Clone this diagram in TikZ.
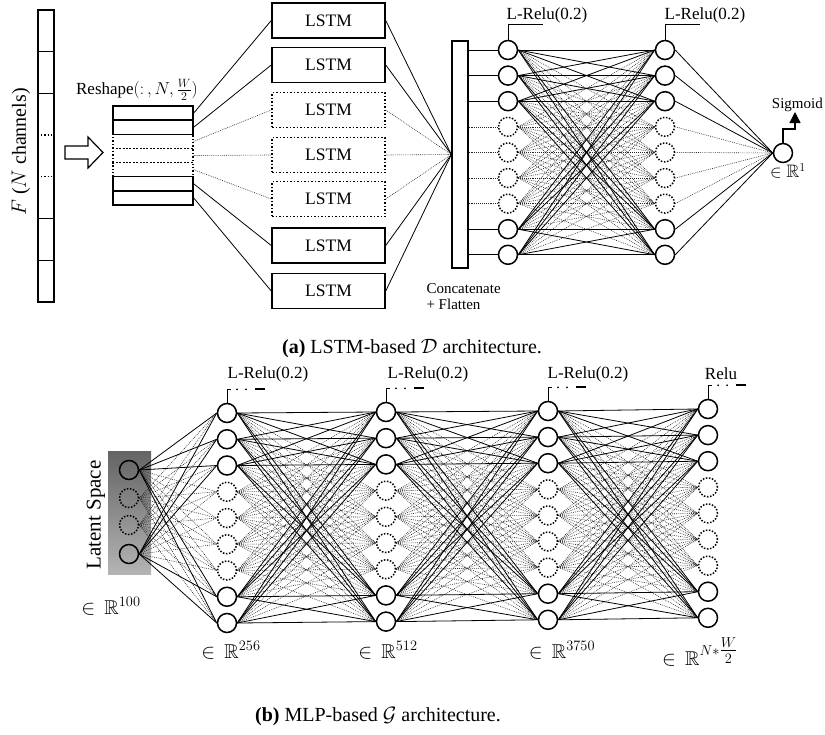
\documentclass[tikz,border=0pt]{standalone}
\usepackage{amsmath,amssymb}
\usepackage{fontspec}
\setmainfont{Liberation Serif}
\usetikzlibrary{arrows.meta}
\definecolor{latTop}{RGB}{100,100,100}
\definecolor{latBot}{RGB}{180,180,180}
\newcommand\fsz[1]{\fontsize{#1}{#1}\selectfont}
% full bipartite connection: dotted lines first, solid lines on top
\newcommand\linkall[4]{%
  \foreach \ii in {1,...,#2}{\foreach \jj in {1,...,#4}{%
    \ifcsname isd#1\ii\endcsname \draw[dconn] (#1\ii.east) -- (#3\jj.west);%
    \else\ifcsname isd#3\jj\endcsname \draw[dconn] (#1\ii.east) -- (#3\jj.west);\fi\fi
  }}%
  \foreach \ii in {1,...,#2}{\foreach \jj in {1,...,#4}{%
    \ifcsname isd#1\ii\endcsname\else\ifcsname isd#3\jj\endcsname\else
      \draw[conn] (#1\ii.east) -- (#3\jj.west);\fi\fi
  }}%
}
\newcommand\actmark[1]{%
  \draw[line width=1pt] (#1.north) -- ++(0,-13.5) coordinate (#1g) -- ++(4,0);
  \fill (#1g) ++(10,0) circle (1pt) ++(9,0) circle (1pt);
  \draw[line width=1.8pt] (#1g) ++(28,0) -- ++(10,0);
}
\foreach \k in {4,5,6,7}{\foreach \p in {p,q,A,B,C,D}{\expandafter\xdef\csname isd\p\k\endcsname{1}}}
\expandafter\xdef\csname isdL2\endcsname{1}
\expandafter\xdef\csname isdL3\endcsname{1}
\begin{document}
\begin{tikzpicture}[x=1pt,y=-1pt,
  neuron/.style={circle,draw,line width=1.5pt,minimum size=19pt,inner sep=0pt},
  dneuron/.style={neuron,dash pattern=on 1.5pt off 1.6pt},
  rrow/.style={draw,line width=1.4pt,minimum width=80pt,minimum height=14.14pt,inner sep=0pt},
  lstm/.style={draw,line width=1.5pt,minimum width=113pt,minimum height=35pt,inner sep=0pt,font=\fsz{17.5}},
  conn/.style={line width=0.8pt},
  dconn/.style={line width=0.6pt,dash pattern=on 0.8pt off 1.1pt,black!85},
  txt/.style={inner sep=1pt},
]
\useasboundingbox (0,0) rectangle (825,734);

% ---------------- (a) ----------------
% input bar
\draw[line width=1.4pt] (38,10) rectangle (54,302);
\foreach \yy in {51.7,93.4,218.5,260.2} \draw[line width=1pt] (38,\yy) -- (54,\yy);
\foreach \yy in {135,176.8} \draw[line width=1.2pt,dotted] (38,\yy) -- (54,\yy);
\node[txt,rotate=90] (flab) at (21,152) {\fsz{20}$F$ ($N$ channels)};
% hollow arrow
\draw[line width=1.2pt] (65,146) -- (88,146) -- (88,137) -- (103,152.5) -- (88,168) -- (88,159) -- (65,159) -- cycle;

% reshape block
\foreach \k in {3,4,5} \node[rrow,dotted] (r\k) at (153,{106+14.143*(\k-0.5)}) {};
\foreach \k in {1,2,6,7} \node[rrow] (r\k) at (153,{106+14.143*(\k-0.5)}) {};
\node[txt] (rslab) at (137,90) {\fsz{17}Reshape$(:\,,N,\tfrac{W}{2})$};

% LSTM boxes
\foreach \k/\yy in {1/20.5,2/65,6/245.5,7/291} \node[lstm] (l\k) at (328.5,\yy) {LSTM};
\foreach \k/\yy in {3/110,4/155,5/199} \node[lstm,dotted] (l\k) at (328.5,\yy) {LSTM};
\foreach \k in {3,4,5} \draw[dconn] (r\k.east) -- (l\k.west);
\foreach \k in {1,2,6,7} \draw[conn] (r\k.east) -- (l\k.west);

% concatenate bar
\node[draw,line width=1.3pt,minimum width=16pt,minimum height=227pt,inner sep=0pt] (cbar) at (460,154.5) {};
\foreach \k in {3,4,5} \draw[dconn] (l\k.east) -- (cbar.west);
\foreach \k in {1,2,6,7} \draw[conn] (l\k.east) -- (cbar.west);
\node[font=\fsz{15},align=left,anchor=west] (cclab) at (423,297) {Concatenate\\[1pt]+ Flatten};

% dense layers
\foreach \k in {1,2,3,8,9}{
  \node[neuron] (p\k) at (508,{50+25.6*(\k-1)}) {};
  \node[neuron] (q\k) at (665,{50+25.6*(\k-1)}) {};
}
\foreach \k in {4,5,6,7}{
  \node[dneuron] (p\k) at (508,{50+25.6*(\k-1)}) {};
  \node[dneuron] (q\k) at (665,{50+25.6*(\k-1)}) {};
}
\node[neuron] (o1) at (783,153) {};
\foreach \k in {4,5,6,7} \draw[dconn] (cbar.east |- p\k) -- (p\k.west);
\foreach \k in {1,2,3,8,9} \draw[conn] (cbar.east |- p\k) -- (p\k.west);
\linkall{p}{9}{q}{9}
\linkall{q}{9}{o}{1}

% activations (a)
\draw[line width=0.9pt] (p1.north) -- ++(0,-15.5) -- ++(35,0);
\draw[line width=0.9pt] (q1.north) -- ++(0,-15.5) -- ++(35,0);
\node[txt] (act1) at (547,15) {\fsz{17}L-Relu(0.2)};
\node[txt] (act2) at (705,15) {\fsz{17}L-Relu(0.2)};
\draw[line width=1.3pt,-{Triangle[width=11pt,length=11pt]}] (o1.north) -- (783,129) -- (795,129) -- (795,112);
\node[txt,anchor=east] (sig) at (824,105) {\fsz{15}Sigmoid};
\node[txt] (rone) at (788,171) {\fsz{18}$\in\mathbb{R}^1$};

\node[txt] (capa) at (412,349) {\fsz{20}\textbf{(a)} LSTM-based $\mathcal{D}$ architecture.};

% ---------------- (b) ----------------
\node[inner sep=0pt,minimum width=43pt,minimum height=123pt,top color=latTop,bottom color=latBot] (latbox) at (129.5,512.5) {};
\node[txt,rotate=90] (latlab) at (96,515) {\fsz{21}Latent Space};
\node[neuron] (L1) at (129,470) {};
\node[dneuron] (L2) at (129,498) {};
\node[dneuron] (L3) at (129,525) {};
\node[neuron] (L4) at (129,554) {};

\foreach \k in {1,2,3,8,9}{
  \node[neuron] (A\k) at (227,{413+26.25*(\k-1)}) {};
  \node[neuron] (B\k) at (386,{412+26.2*(\k-1)}) {};
  \node[neuron] (C\k) at (548,{411+26.1*(\k-1)}) {};
  \node[neuron] (D\k) at (708,{409+26.1*(\k-1)}) {};
}
\foreach \k in {4,5,6,7}{
  \node[dneuron] (A\k) at (227,{413+26.25*(\k-1)}) {};
  \node[dneuron] (B\k) at (386,{412+26.2*(\k-1)}) {};
  \node[dneuron] (C\k) at (548,{411+26.1*(\k-1)}) {};
  \node[dneuron] (D\k) at (708,{409+26.1*(\k-1)}) {};
}
\linkall{L}{4}{A}{9}
\linkall{A}{9}{B}{9}
\linkall{B}{9}{C}{9}
\linkall{C}{9}{D}{9}

\actmark{A1}
\actmark{B1}
\actmark{C1}
\actmark{D1}
\node[txt] (actA) at (268,374) {\fsz{17}L-Relu(0.2)};
\node[txt] (actB) at (428,374) {\fsz{17}L-Relu(0.2)};
\node[txt] (actC) at (588,374) {\fsz{17}L-Relu(0.2)};
\node[txt] (actD) at (721,374) {\fsz{17}Relu};

\node[txt] (dimL) at (111,606) {\fsz{20}$\in\,\mathbb{R}^{100}$};
\node[txt] (dimA) at (231,650) {\fsz{20}$\in\,\mathbb{R}^{256}$};
\node[txt] (dimB) at (388,650) {\fsz{20}$\in\,\mathbb{R}^{512}$};
\node[txt] (dimC) at (562,650) {\fsz{20}$\in\,\mathbb{R}^{3750}$};
\node[txt] (dimD) at (700,652) {\fsz{20}$\in\,\mathbb{R}^{N*\genfrac{}{}{}{1}{W}{2}}$};

\node[txt] (capb) at (378,717) {\fsz{20}\textbf{(b)} MLP-based $\mathcal{G}$ architecture.};
\end{tikzpicture}
\end{document}
